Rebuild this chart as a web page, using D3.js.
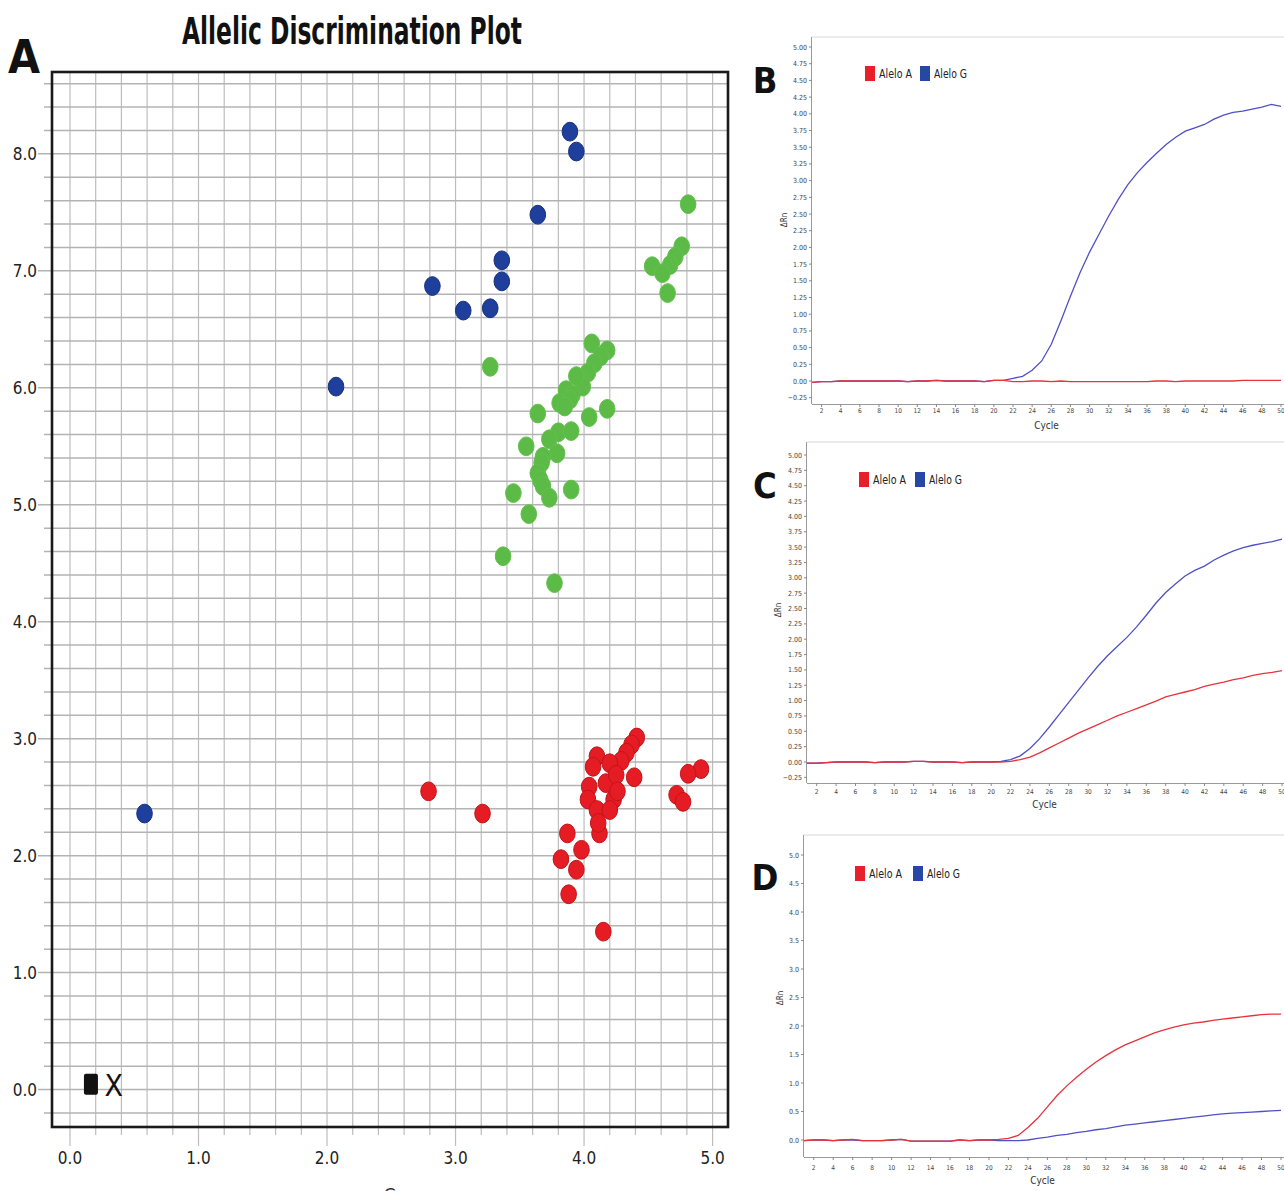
<!DOCTYPE html>
<html>
<head>
<meta charset="utf-8">
<script src="https://cdn.jsdelivr.net/npm/d3@7"></script>
<style>
  body { margin: 0; background: #fff; }
  svg { display: block; }
  text { font-family: "Liberation Sans Narrow", "DejaVu Sans Condensed", "Liberation Sans", sans-serif; }
</style>
</head>
<body>
<svg></svg>
<script>
var w = 1284, h = 1191;

// ---- panel A : allelic discrimination (x = allele A, y = allele G) ----
var bluePts = [[3.89, 8.19], [3.94, 8.02], [3.64, 7.48], [3.36, 7.09], [3.36, 6.91],
  [2.82, 6.87], [3.06, 6.66], [3.27, 6.68], [2.07, 6.01], [0.58, 2.36]];

var greenPts = [[4.81, 7.57], [4.76, 7.21], [4.71, 7.12], [4.67, 7.05], [4.53, 7.04],
  [4.61, 6.98], [4.65, 6.81],
  [3.27, 6.18], [4.06, 6.38], [4.18, 6.32], [4.13, 6.27], [4.08, 6.21], [4.03, 6.13],
  [3.98, 6.07], [3.99, 6.01], [3.94, 6.10], [3.86, 5.98], [3.91, 5.94], [3.89, 5.90],
  [3.81, 5.87], [3.85, 5.84], [4.04, 5.75], [4.18, 5.82], [3.64, 5.78], [3.80, 5.62],
  [3.90, 5.63], [3.73, 5.56], [3.79, 5.44], [3.68, 5.41], [3.67, 5.36], [3.55, 5.50],
  [3.64, 5.27], [3.66, 5.21], [3.68, 5.16], [3.73, 5.06], [3.90, 5.13], [3.45, 5.10],
  [3.57, 4.92], [3.37, 4.56], [3.77, 4.33]];

var redPts = [[2.79, 2.55], [3.21, 2.36],
  [4.41, 3.01], [4.37, 2.95], [4.33, 2.88], [4.29, 2.81], [4.10, 2.85], [4.20, 2.79],
  [4.07, 2.76], [4.39, 2.67], [4.04, 2.59], [4.17, 2.62], [4.25, 2.69], [4.23, 2.48],
  [4.03, 2.48], [4.10, 2.39], [4.20, 2.39], [4.12, 2.19], [4.11, 2.28], [4.26, 2.55],
  [3.87, 2.19], [3.98, 2.05], [3.82, 1.97], [3.94, 1.88], [3.88, 1.67], [4.15, 1.35],
  [4.91, 2.74], [4.81, 2.70], [4.72, 2.52], [4.77, 2.46]];

var ntcPt = [0.163, 0.05];
var undetPt = [0.34, 0.04];

var xTicksA = [0.0, 1.0, 2.0, 3.0, 4.0, 5.0];
var yTicksA = [0.0, 1.0, 2.0, 3.0, 4.0, 5.0, 6.0, 7.0, 8.0];

// ---- panels B, C, D : amplification curves ----
var cycles = d3.range(1, 51);

var bAleloA = [-0.02, -0.01, -0.01, 0, 0, 0, 0, 0, 0, 0,
  -0.01, 0, 0, 0.01, 0, 0, 0, 0, -0.01, 0.01,
  0.01, -0.01, -0.01, 0, 0, -0.01, 0, -0.01, -0.01, -0.01,
  -0.01, -0.01, -0.01, -0.01, -0.01, -0.01, 0, 0, -0.01, 0,
  0, 0, 0, 0, 0, 0.01, 0.01, 0.01, 0.01, 0.01];
var bAleloG = [-0.02, -0.01, -0.01, 0, 0, 0, 0, 0, 0, 0,
  -0.01, 0, 0, 0.01, 0, 0, 0, 0, -0.01, 0.01,
  0.01, 0.04, 0.07, 0.16, 0.30, 0.55, 0.90, 1.27, 1.62, 1.93,
  2.20, 2.47, 2.72, 2.94, 3.12, 3.27, 3.41, 3.54, 3.65, 3.74,
  3.79, 3.84, 3.92, 3.98, 4.02, 4.04, 4.07, 4.10, 4.14, 4.11];

var cAleloA = [-0.02, -0.02, -0.01, 0, 0, 0, 0, -0.01, 0, 0,
  0, 0.01, 0.01, 0, 0, 0, -0.01, 0, 0, 0,
  0, 0.01, 0.04, 0.08, 0.15, 0.23, 0.31, 0.39, 0.47, 0.54,
  0.61, 0.68, 0.75, 0.81, 0.87, 0.93, 0.99, 1.06, 1.10, 1.14,
  1.18, 1.23, 1.27, 1.30, 1.34, 1.37, 1.41, 1.44, 1.46, 1.49];
var cAleloG = [-0.02, -0.02, -0.01, 0, 0, 0, 0, -0.01, 0, 0,
  0, 0.01, 0.01, 0, 0, 0, -0.01, 0, 0, 0,
  0.01, 0.04, 0.10, 0.22, 0.38, 0.57, 0.77, 0.97, 1.17, 1.37,
  1.56, 1.73, 1.88, 2.03, 2.20, 2.39, 2.59, 2.76, 2.90, 3.03,
  3.12, 3.19, 3.29, 3.37, 3.44, 3.49, 3.53, 3.56, 3.59, 3.63];

var dAleloA = [-0.01, 0, 0, -0.01, 0, 0.01, -0.01, -0.01, -0.01, 0,
  0.01, -0.02, -0.02, -0.02, -0.02, -0.02, 0, -0.01, 0, 0,
  0.01, 0.03, 0.08, 0.22, 0.38, 0.58, 0.78, 0.95, 1.10, 1.24,
  1.37, 1.48, 1.58, 1.67, 1.74, 1.81, 1.88, 1.93, 1.98, 2.02,
  2.05, 2.07, 2.10, 2.12, 2.14, 2.16, 2.18, 2.20, 2.21, 2.21];
var dAleloG = [-0.01, 0, 0, -0.01, 0, 0, -0.01, -0.01, -0.01, 0,
  0.01, -0.02, -0.02, -0.02, -0.02, -0.02, 0, -0.01, 0, 0,
  -0.01, -0.01, -0.01, 0, 0.03, 0.05, 0.08, 0.10, 0.13, 0.15,
  0.18, 0.20, 0.23, 0.26, 0.28, 0.30, 0.32, 0.34, 0.36, 0.38,
  0.40, 0.42, 0.44, 0.46, 0.47, 0.48, 0.49, 0.50, 0.51, 0.52];

var cycleTicks = d3.range(2, 51, 2);
var yTicksQuarter = [-0.25, 0, 0.25, 0.5, 0.75, 1, 1.25, 1.5, 1.75, 2, 2.25, 2.5,
  2.75, 3, 3.25, 3.5, 3.75, 4, 4.25, 4.5, 4.75, 5];
var yTicksHalf = [0, 0.5, 1, 1.5, 2, 2.5, 3, 3.5, 4, 4.5, 5];

var legendNames = ["Alelo A", "Alelo G"];

var svg = d3.select("svg").attr("width", w).attr("height", h);

// ===================== panel A =====================
var xA = d3.scaleLinear().domain([-0.14, 5.12]).range([52, 728]);
var yA = d3.scaleLinear().domain([-0.32, 8.7]).range([1127, 72]);

var gA = svg.append("g");

var gridX = d3.range(0, 26).map(function(i) { return i * 0.2; });
var gridY = d3.range(-1, 44).map(function(i) { return i * 0.2; });

function isMajor(d) { return Math.abs(d - Math.round(d)) < 1e-6; }

gA.selectAll(".vgrid")
  .data(gridX)
  .enter()
  .append("line")
  .attr("x1", function(d) { return xA(d); })
  .attr("x2", function(d) { return xA(d); })
  .attr("y1", 72)
  .attr("y2", function(d) { return isMajor(d) ? 1146 : 1135; })
  .attr("stroke", "#bdbdbd")
  .attr("stroke-width", 1.2);

gA.selectAll(".hgrid")
  .data(gridY)
  .enter()
  .append("line")
  .attr("y1", function(d) { return yA(d); })
  .attr("y2", function(d) { return yA(d); })
  .attr("x1", function(d) { return isMajor(d) ? 38 : 44; })
  .attr("x2", 728)
  .attr("stroke", "#b3b3b3")
  .attr("stroke-width", 1.5);

gA.append("rect")
  .attr("x", 52).attr("y", 72)
  .attr("width", 676).attr("height", 1055)
  .attr("fill", "none")
  .attr("stroke", "#1a1a1a")
  .attr("stroke-width", 2.6);

gA.selectAll(".xlab")
  .data(xTicksA)
  .enter()
  .append("text")
  .attr("x", function(d) { return xA(d); })
  .attr("y", 1164)
  .attr("text-anchor", "middle")
  .attr("font-size", 17)
  .attr("fill", "#222")
  .text(function(d) { return d.toFixed(1); });

gA.selectAll(".ylab")
  .data(yTicksA)
  .enter()
  .append("text")
  .attr("x", 37)
  .attr("y", function(d) { return yA(d) + 6; })
  .attr("text-anchor", "end")
  .attr("font-size", 17)
  .attr("fill", "#222")
  .text(function(d) { return d.toFixed(1); });

function drawDots(pts, fill, stroke) {
  gA.append("g")
    .selectAll("ellipse")
    .data(pts)
    .enter()
    .append("ellipse")
    .attr("cx", function(d) { return xA(d[0]); })
    .attr("cy", function(d) { return yA(d[1]); })
    .attr("rx", 7.8)
    .attr("ry", 9.4)
    .attr("fill", fill)
    .attr("stroke", stroke)
    .attr("stroke-width", 1);
}
drawDots(greenPts, "#5cba47", "#63c04e");
drawDots(redPts, "#e51c24", "#c0141b");
drawDots(bluePts, "#1f3f9c", "#172f7e");

// no-template control & undetermined markers
gA.append("rect")
  .attr("x", xA(ntcPt[0]) - 7).attr("y", yA(ntcPt[1]) - 10)
  .attr("width", 14).attr("height", 21)
  .attr("rx", 2)
  .attr("fill", "#111");
gA.append("text")
  .attr("x", xA(undetPt[0]))
  .attr("y", yA(undetPt[1]) + 11)
  .attr("text-anchor", "middle")
  .attr("font-size", 30)
  .attr("font-family", "Liberation Sans, sans-serif")
  .attr("fill", "#111")
  .text("X");

svg.append("text")
  .attr("x", 352).attr("y", 44)
  .attr("text-anchor", "middle")
  .attr("font-size", 37)
  .attr("font-weight", "bold")
  .attr("textLength", 340)
  .attr("lengthAdjust", "spacingAndGlyphs")
  .attr("fill", "#111")
  .text("Allelic Discrimination Plot");

svg.append("text")
  .attr("x", 24).attr("y", 73)
  .attr("text-anchor", "middle")
  .attr("font-size", 46)
  .attr("font-weight", "bold")
  .attr("fill", "#111")
  .text("A");

svg.append("text")
  .attr("x", 390).attr("y", 1201)
  .attr("text-anchor", "middle")
  .attr("font-size", 18)
  .attr("fill", "#333")
  .text("G");

// ===================== panels B, C, D =====================
var panels = [
  { letter: "B", letterY: 93, left: 812, x50: 1281, top: 37, bottom: 404,
    y0: 381, y5: 47, ticks: yTicksQuarter, fmt: d3.format(".2f"),
    tickLabY: 413, cycleY: 429, rnY: 220, rnX: 787,
    legX: 865, legY: 66, legGap: 55, a: bAleloA, g: bAleloG },
  { letter: "C", letterY: 498, left: 807, x50: 1282, top: 442, bottom: 783,
    y0: 762, y5: 455, ticks: yTicksQuarter, fmt: d3.format(".2f"),
    tickLabY: 794, cycleY: 808, rnY: 610, rnX: 781,
    legX: 859, legY: 472, legGap: 56, a: cAleloA, g: cAleloG },
  { letter: "D", letterY: 890, left: 804, x50: 1281, top: 835, bottom: 1157,
    y0: 1140, y5: 855, ticks: yTicksHalf, fmt: d3.format(".1f"),
    tickLabY: 1170, cycleY: 1184, rnY: 998, rnX: 783,
    legX: 855, legY: 866, legGap: 58, a: dAleloA, g: dAleloG }
];

panels.forEach(function(p) {
  var x = d3.scaleLinear().domain([1, 50]).range([p.left, p.x50]);
  var y = d3.scaleLinear().domain([0, 5]).range([p.y0, p.y5]);
  var g = svg.append("g");

  // frame
  g.append("line")
    .attr("x1", p.left).attr("x2", w).attr("y1", p.top).attr("y2", p.top)
    .attr("stroke", "#d8d8d8");
  g.append("line")
    .attr("x1", p.left - 0.5).attr("x2", p.left - 0.5).attr("y1", p.top).attr("y2", p.bottom)
    .attr("stroke", "#9a9a9a");
  g.append("line")
    .attr("x1", p.left).attr("x2", w).attr("y1", p.bottom + 0.5).attr("y2", p.bottom + 0.5)
    .attr("stroke", "#9a9a9a");

  // y ticks
  var yt = g.selectAll(".yt").data(p.ticks).enter().append("g");
  yt.append("line")
    .attr("x1", p.left - 3).attr("x2", p.left)
    .attr("y1", function(d) { return y(d); })
    .attr("y2", function(d) { return y(d); })
    .attr("stroke", "#888");
  yt.append("text")
    .attr("x", p.left - 5)
    .attr("y", function(d) { return y(d) + 2.5; })
    .attr("text-anchor", "end")
    .attr("font-size", 7)
    .attr("fill", "#444")
    .text(function(d) { return p.fmt(d); });

  // x ticks
  var xt = g.selectAll(".xt").data(cycleTicks).enter().append("g");
  xt.append("line")
    .attr("x1", function(d) { return x(d); })
    .attr("x2", function(d) { return x(d); })
    .attr("y1", p.bottom).attr("y2", p.bottom + 3)
    .attr("stroke", "#888");
  xt.append("text")
    .attr("x", function(d) { return x(d); })
    .attr("y", p.tickLabY)
    .attr("text-anchor", "middle")
    .attr("font-size", 6.5)
    .attr("fill", "#444")
    .text(function(d) { return d; });

  g.append("text")
    .attr("x", (p.left + p.x50) / 2).attr("y", p.cycleY)
    .attr("text-anchor", "middle")
    .attr("font-size", 10)
    .attr("fill", "#333")
    .text("Cycle");

  g.append("text")
    .attr("transform", "translate(" + p.rnX + "," + p.rnY + ") rotate(-90)")
    .attr("text-anchor", "middle")
    .attr("font-size", 8)
    .attr("fill", "#333")
    .text("\u0394Rn");

  var line = d3.line()
    .x(function(d, i) { return x(cycles[i]); })
    .y(function(d) { return y(d); });

  g.append("path")
    .datum(p.g)
    .attr("d", line)
    .attr("fill", "none")
    .attr("stroke", "#5050c6")
    .attr("stroke-width", 1.3);
  g.append("path")
    .datum(p.a)
    .attr("d", line)
    .attr("fill", "none")
    .attr("stroke", "#e8323c")
    .attr("stroke-width", 1.3);

  // legend
  var colors = ["#e8202a", "#2747a6"];
  legendNames.forEach(function(name, i) {
    var lx = p.legX + i * p.legGap;
    g.append("rect")
      .attr("x", lx).attr("y", p.legY)
      .attr("width", 10).attr("height", 15)
      .attr("fill", colors[i]);
    g.append("text")
      .attr("x", lx + 14).attr("y", p.legY + 12)
      .attr("font-size", 12.5)
      .attr("textLength", 33)
      .attr("lengthAdjust", "spacingAndGlyphs")
      .attr("fill", "#222")
      .text(name);
  });

  svg.append("text")
    .attr("x", 765).attr("y", p.letterY)
    .attr("text-anchor", "middle")
    .attr("font-size", 36)
    .attr("font-weight", "bold")
    .attr("fill", "#111")
    .text(p.letter);
});
</script>
</body>
</html>
